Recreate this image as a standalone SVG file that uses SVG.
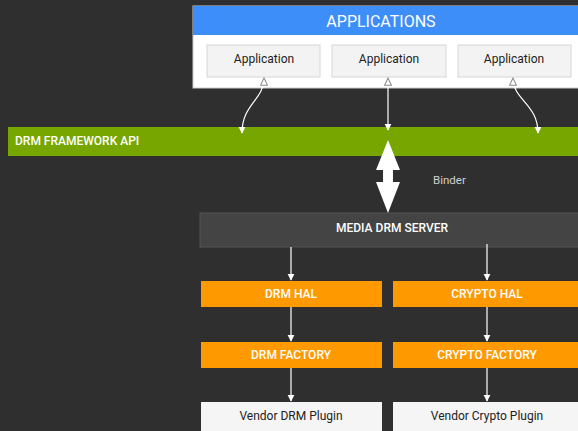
<svg xmlns="http://www.w3.org/2000/svg" width="578" height="431" viewBox="0 0 578 431">
<style>
.t{font-family:Roboto,"Open Sans","Liberation Sans",sans-serif;}
.hdr{font-size:16px;fill:#fff;}
.app{fill:#f3f3f3;stroke:#d6d6d6;stroke-width:1;}
.appt{font-size:12px;fill:#222;}
.lab{font-size:12px;fill:#fff;font-weight:500;}
.orange{fill:#ff9900;}
.vend{fill:#f5f5f5;}
.vt{font-size:12px;fill:#222;}
.conn{stroke:#fff;stroke-width:1.2;fill:none;}
</style>
<defs>
<marker id="ah" viewBox="0 0 10 10" refX="9" refY="5" markerWidth="6" markerHeight="6" orient="auto">
<path d="M0,0 L10,5 L0,10 z" fill="#fff"/>
</marker>
<marker id="hollow" viewBox="0 0 10 10" refX="9" refY="5" markerWidth="7" markerHeight="7" orient="auto-start-reverse">
<path d="M0.5,1 L9,5 L0.5,9 z" fill="#fff" stroke="#888" stroke-width="1.2"/>
</marker>
</defs>
<rect width="578" height="431" fill="#2f2f2f"/>

<g id="applications">
<rect x="193" y="6" width="390" height="82" fill="#fff" stroke="#ccc"/>
<rect x="193" y="6" width="390" height="29" fill="#3d8ef8"/>
<text class="t hdr" x="381" y="27" text-anchor="middle">APPLICATIONS</text>
</g>
<g id="app1">
<rect class="app" x="207" y="45" width="113" height="32"/>
<text class="t appt" x="264" y="63" text-anchor="middle">Application</text>
</g>
<g id="app2">
<rect class="app" x="332" y="45" width="114" height="32"/>
<text class="t appt" x="389" y="63" text-anchor="middle">Application</text>
</g>
<g id="app3">
<rect class="app" x="458" y="45" width="113" height="32"/>
<text class="t appt" x="514" y="63" text-anchor="middle">Application</text>
</g>

<g id="drm-framework-api">
<rect x="8" y="127" width="570" height="29" fill="#78a600"/>
<text class="t lab" x="15" y="145">DRM FRAMEWORK API</text>
</g>

<g id="binder-label">
<text class="t" x="433" y="184" font-size="11.5" fill="#d0d0d0">Binder</text>
</g>

<g id="media-drm-server">
<rect x="200" y="213" width="380" height="34" fill="#444" stroke="#555"/>
<text class="t lab" x="392" y="232" text-anchor="middle" fill="#e6e6e6">MEDIA DRM SERVER</text>
</g>

<g id="drm-hal">
<rect class="orange" x="201" y="281" width="181" height="26"/>
<text class="t lab" x="291" y="298" text-anchor="middle">DRM HAL</text>
</g>
<g id="crypto-hal">
<rect class="orange" x="393" y="281" width="185" height="26"/>
<text class="t lab" x="487" y="298" text-anchor="middle">CRYPTO HAL</text>
</g>
<g id="drm-factory">
<rect class="orange" x="201" y="342" width="181" height="26"/>
<text class="t lab" x="291" y="359" text-anchor="middle">DRM FACTORY</text>
</g>
<g id="crypto-factory">
<rect class="orange" x="393" y="342" width="185" height="26"/>
<text class="t lab" x="487" y="359" text-anchor="middle">CRYPTO FACTORY</text>
</g>
<g id="vendor-drm-plugin">
<rect class="vend" x="201" y="402" width="181" height="40"/>
<text class="t vt" x="291" y="420" text-anchor="middle">Vendor DRM Plugin</text>
</g>
<g id="vendor-crypto-plugin">
<rect class="vend" x="393" y="402" width="185" height="40"/>
<text class="t vt" x="487" y="420" text-anchor="middle">Vendor Crypto Plugin</text>
</g>

<g id="connectors">
<path class="conn" d="M264,78 C264,100 242,104 242,133" marker-start="url(#hollow)" marker-end="url(#ah)"/>
<path class="conn" d="M388,78 L388,130" marker-start="url(#hollow)" marker-end="url(#ah)"/>
<path class="conn" d="M513,78 C513,100 538,104 538,133" marker-start="url(#hollow)" marker-end="url(#ah)"/>
<path d="M388,140 L400,170 L393,170 L393,182 L400,182 L388,213 L376,182 L383,182 L383,170 L376,170 Z" fill="#fff"/>
<path class="conn" d="M291,247 L291,280" marker-end="url(#ah)"/>
<path class="conn" d="M487,244 L487,280" marker-end="url(#ah)"/>
<path class="conn" d="M291,307 L291,341" marker-end="url(#ah)"/>
<path class="conn" d="M487,307 L487,341" marker-end="url(#ah)"/>
<path class="conn" d="M291,368 L291,401" marker-end="url(#ah)"/>
<path class="conn" d="M487,368 L487,401" marker-end="url(#ah)"/>
</g>
</svg>
